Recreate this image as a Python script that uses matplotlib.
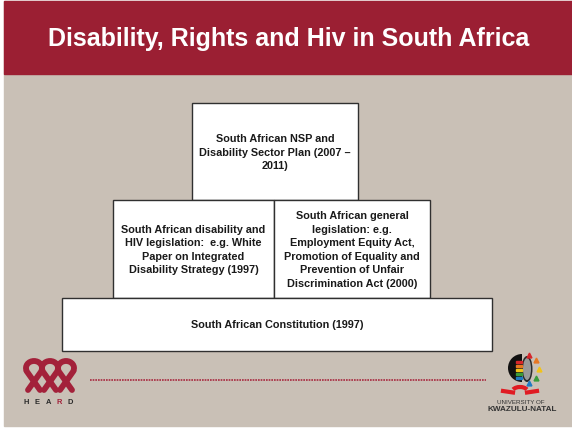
import matplotlib.pyplot as plt
from matplotlib.patches import Rectangle, Arc, Ellipse, Wedge

plt.rcParams['font.family'] = ['Liberation Sans', 'DejaVu Sans']

title = "Disability, Rights and Hiv in South Africa"

# pyramid tiers, top to bottom
box_labels = [
    "South African NSP and\nDisability Sector Plan (2007 \u2013\n2011)",
    "South African disability and\nHIV legislation:  e.g. White\nPaper on Integrated\nDisability Strategy (1997)",
    "South African general\nlegislation: e.g.\nEmployment Equity Act,\nPromotion of Equality and\nPrevention of Unfair\nDiscrimination Act (2000)",
    "South African Constitution (1997)",
]
# x0, x1, y0, y1 in pixels (y down)
box_extents = [
    (192, 358, 103, 200),
    (113, 274, 200, 298),
    (274, 430, 200, 298),
    (62, 492, 298, 351),
]

W, H = 572, 428
bg = '#c9c0b6'
red = '#9b1f33'

fig = plt.figure(figsize=(W / 100, H / 100), dpi=100)
ax = fig.add_axes([0, 0, 1, 1])
ax.set_xlim(0, W)
ax.set_ylim(H, 0)
ax.axis('off')

# slide background and header band
ax.add_patch(Rectangle((0, 0), W, H, color='white', zorder=0))
ax.add_patch(Rectangle((4, 1), W - 4, H - 3, color=bg, zorder=0))
ax.add_patch(Rectangle((4, 1), W - 4, 73, color=red, zorder=1))
ax.text(289, 39, title, color='white', fontsize=18, fontweight='bold',
        ha='center', va='center', zorder=2)

for label, (x0, x1, y0, y1) in zip(box_labels, box_extents):
    ax.add_patch(Rectangle((x0, y0), x1 - x0, y1 - y0, facecolor='white',
                           edgecolor='#303030', lw=1.0, zorder=3))
    ax.text((x0 + x1) / 2, (y0 + y1) / 2 + 1, label, fontsize=7.8,
            fontweight='bold', color='#1a1a1a', ha='center', va='center',
            linespacing=1.45, zorder=4)

# dotted rule in the footer
ax.plot([90, 486], [380, 380], color='#a8283e', lw=1.2, ls=(0, (1, 0.6)),
        zorder=2)

# HEARD logo: three ribbon loops
lc = '#a3213a'
for cx in [34, 50, 66]:
    ax.add_patch(Arc((cx, 368), 16, 14, theta1=-200, theta2=20, color=lc,
                     lw=4.2, zorder=3))
    ax.plot([cx - 7.5, cx + 6], [371, 390], color=lc, lw=4.2,
            solid_capstyle='round', zorder=3)
    ax.plot([cx + 7.5, cx - 6], [371, 390], color=lc, lw=4.2,
            solid_capstyle='round', zorder=3)
for ch, x in zip("HEARD", [26, 37, 48, 59, 70]):
    ax.text(x, 402, ch, fontsize=5.4, fontweight='bold',
            color=lc if ch == 'R' else '#2a2a2a', ha='center', va='center')

# UKZN logo
ax.add_patch(Wedge((522, 368), 14, 90, 270, facecolor='#111111', zorder=3))
ax.add_patch(Ellipse((527, 369), 11, 26, facecolor='#2a2a2a', zorder=3))
ax.add_patch(Ellipse((527, 369), 8, 22, facecolor='#9a9a9a', zorder=3))
for i, c in enumerate(['#d6262b', '#e87722', '#f2c318', '#3a9c3a', '#1f7ac2']):
    ax.add_patch(Rectangle((516, 361 + i * 4), 6, 2.4, color=c, zorder=4))
for (rx, ry), c in zip([(529, 355), (536, 360), (539, 369), (536, 378),
                        (529, 383)],
                       ['#d6262b', '#e87722', '#f2c318', '#3a9c3a', '#1f7ac2']):
    ax.plot(rx, ry, marker='^', ms=3.5, color=c, zorder=4)
# red wave under the shield (humps upward on screen)
ax.add_patch(Arc((520, 392), 16, 10, theta1=200, theta2=340, color='#e01b22',
                 lw=3, zorder=3))
ax.plot([503, 513], [391, 392.5], color='#e01b22', lw=3, zorder=3)
ax.plot([527, 537], [392.5, 391], color='#e01b22', lw=3, zorder=3)
ax.text(521, 402, "UNIVERSITY OF", fontsize=4.5, color='#333333',
        ha='center', va='center')
ax.text(522, 409.5, "KWAZULU-NATAL", fontsize=5.9, fontweight='bold',
        color='#333333', ha='center', va='center')

fig.savefig('out.png', dpi=100)
